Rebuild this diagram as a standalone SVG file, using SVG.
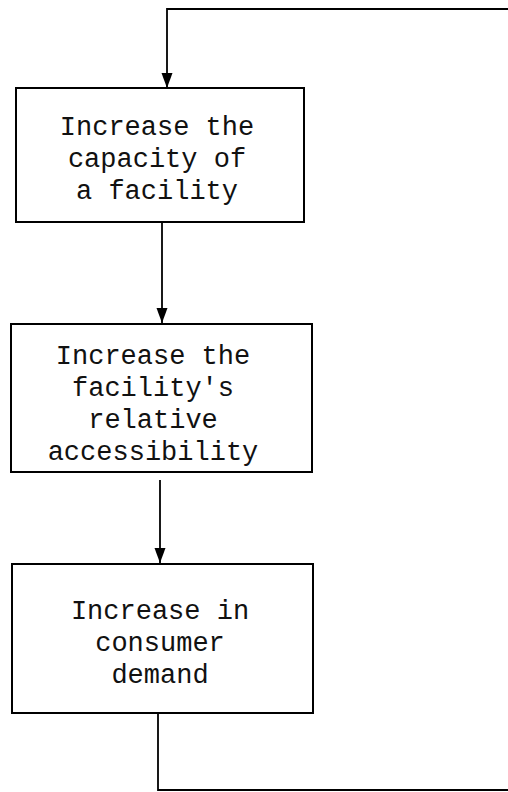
<svg xmlns="http://www.w3.org/2000/svg" width="508" height="792" viewBox="0 0 508 792">
<style>
.box{fill:#fff;stroke:#000;stroke-width:2}
.lbl{font-family:"Liberation Mono","Courier New",monospace;font-size:27px;fill:#111;text-anchor:middle}
.con{fill:none;stroke:#000;stroke-width:1.8}
</style>
<defs>
<marker id="arr" markerUnits="userSpaceOnUse" markerWidth="16" markerHeight="12" refX="15" refY="6" orient="auto" viewBox="0 0 16 12">
<path d="M0,0.5 L15,6 L0,11.5 Z" fill="#000"/>
</marker>
</defs>
<rect width="508" height="792" fill="#fff"/>
<g id="connectors">
<path class="con" d="M508,9 L167,9 L167,88" marker-end="url(#arr)"/>
<path class="con" d="M162,222 L162,323" marker-end="url(#arr)"/>
<path class="con" d="M160,480 L160,563" marker-end="url(#arr)"/>
<path class="con" d="M158,713 L158,790 L508,790"/>
</g>
<g id="node1">
<rect class="box" x="16" y="88" width="288" height="134"/>
<text class="lbl" x="157" y="135">Increase the</text>
<text class="lbl" x="157" y="167">capacity of</text>
<text class="lbl" x="157" y="199">a facility</text>
</g>
<g id="node2">
<rect class="box" x="11" y="324" width="301" height="148"/>
<text class="lbl" x="153" y="364">Increase the</text>
<text class="lbl" x="153" y="396">facility's</text>
<text class="lbl" x="153" y="428">relative</text>
<text class="lbl" x="153" y="460">accessibility</text>
</g>
<g id="node3">
<rect class="box" x="12" y="564" width="301" height="149"/>
<text class="lbl" x="160" y="619">Increase in</text>
<text class="lbl" x="160" y="651">consumer</text>
<text class="lbl" x="160" y="683">demand</text>
</g>
</svg>
